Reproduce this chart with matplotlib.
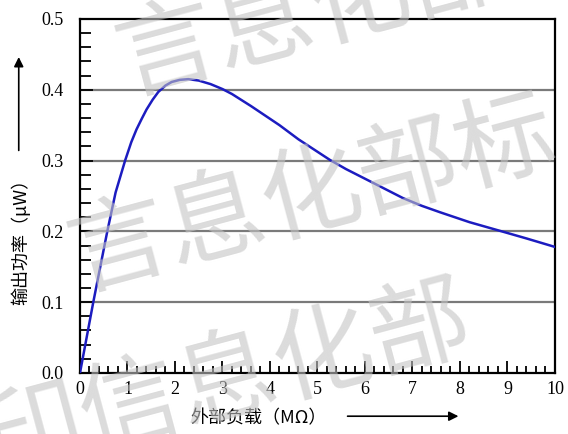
import numpy as np
import matplotlib.pyplot as plt
from matplotlib.ticker import MultipleLocator

plt.rcParams['font.family'] = ['Liberation Serif', 'Noto Sans CJK SC', 'DejaVu Sans']

# readings: load (MOhm) vs output power (uW)
load = [0, 0.28, 0.575, 0.75, 0.95, 1.08, 1.19, 1.3, 1.4, 1.53, 1.65, 1.8, 1.93, 2.1, 2.28,
        2.5, 2.75, 3.0, 3.2, 3.6, 4.2, 4.6, 5.26, 5.6, 6.04, 6.8, 7.2, 7.58, 8.2, 8.88, 9.4, 10]
power = [0, 0.1, 0.2, 0.255, 0.3, 0.326, 0.344, 0.359, 0.372, 0.386, 0.397, 0.406, 0.411, 0.414, 0.415,
         0.413, 0.408, 0.401, 0.394, 0.377, 0.350, 0.330, 0.301, 0.288, 0.273, 0.247, 0.236, 0.227, 0.213, 0.2, 0.19, 0.178]

fig = plt.figure(figsize=(5.68, 4.34), dpi=100)
ax = fig.add_axes([0.1408, 0.1406, 0.8363, 0.8157])

for yv in [0.1, 0.2, 0.3, 0.4]:
    ax.axhline(yv, color='#7a7a7a', lw=1.6, zorder=1)

ax.plot(load, power, color='#1c1cc0', lw=1.8, zorder=3)

ax.set_xlim(0, 10)
ax.set_ylim(0, 0.5)
ax.xaxis.set_major_locator(MultipleLocator(1))
ax.xaxis.set_minor_locator(MultipleLocator(0.2))
ax.yaxis.set_major_locator(MultipleLocator(0.1))
ax.yaxis.set_minor_locator(MultipleLocator(0.02))
ax.yaxis.set_major_formatter(plt.FormatStrFormatter('%.1f'))
ax.tick_params(axis='x', which='major', direction='in', length=9, width=1.3, labelsize=13, pad=6)
ax.tick_params(axis='x', which='minor', direction='in', length=5, width=1.3)
ax.tick_params(axis='y', which='major', direction='in', length=9, width=1.3, labelsize=13, pad=12)
ax.tick_params(axis='y', which='minor', direction='in', length=8, width=1.3)
for s in ax.spines.values():
    s.set_linewidth(1.6)

fig.text(0.036, 0.452, '输出功率（μW）', rotation=90, ha='center', va='center',
         fontsize=13, family=['Noto Sans CJK SC', 'DejaVu Sans'])
fig.text(0.456, 0.037, '外部负载（MΩ）', ha='center', va='center',
         fontsize=13, family=['Noto Sans CJK SC', 'DejaVu Sans'])
fig.add_artist(plt.Annotation('', xy=(0.033, 0.875), xytext=(0.033, 0.647),
               xycoords='figure fraction', textcoords='figure fraction',
               arrowprops=dict(arrowstyle='-|>', color='black', lw=1.2, mutation_scale=14)))
fig.add_artist(plt.Annotation('', xy=(0.812, 0.041), xytext=(0.607, 0.041),
               xycoords='figure fraction', textcoords='figure fraction',
               arrowprops=dict(arrowstyle='-|>', color='black', lw=1.2, mutation_scale=14)))

# watermark
wm = dict(color='#c4c4c4', alpha=0.6, fontsize=72, fontweight=300, ha='center', va='center',
          rotation=15, zorder=10, family=['Noto Sans CJK SC'])
fig.text(0.55, 0.97, '言息化部', **wm)
fig.text(0.55, 0.55, '言息化部标', **wm)
fig.text(0.40, 0.12, '印信息化部', **wm)

fig.savefig('out.png', dpi=100)
